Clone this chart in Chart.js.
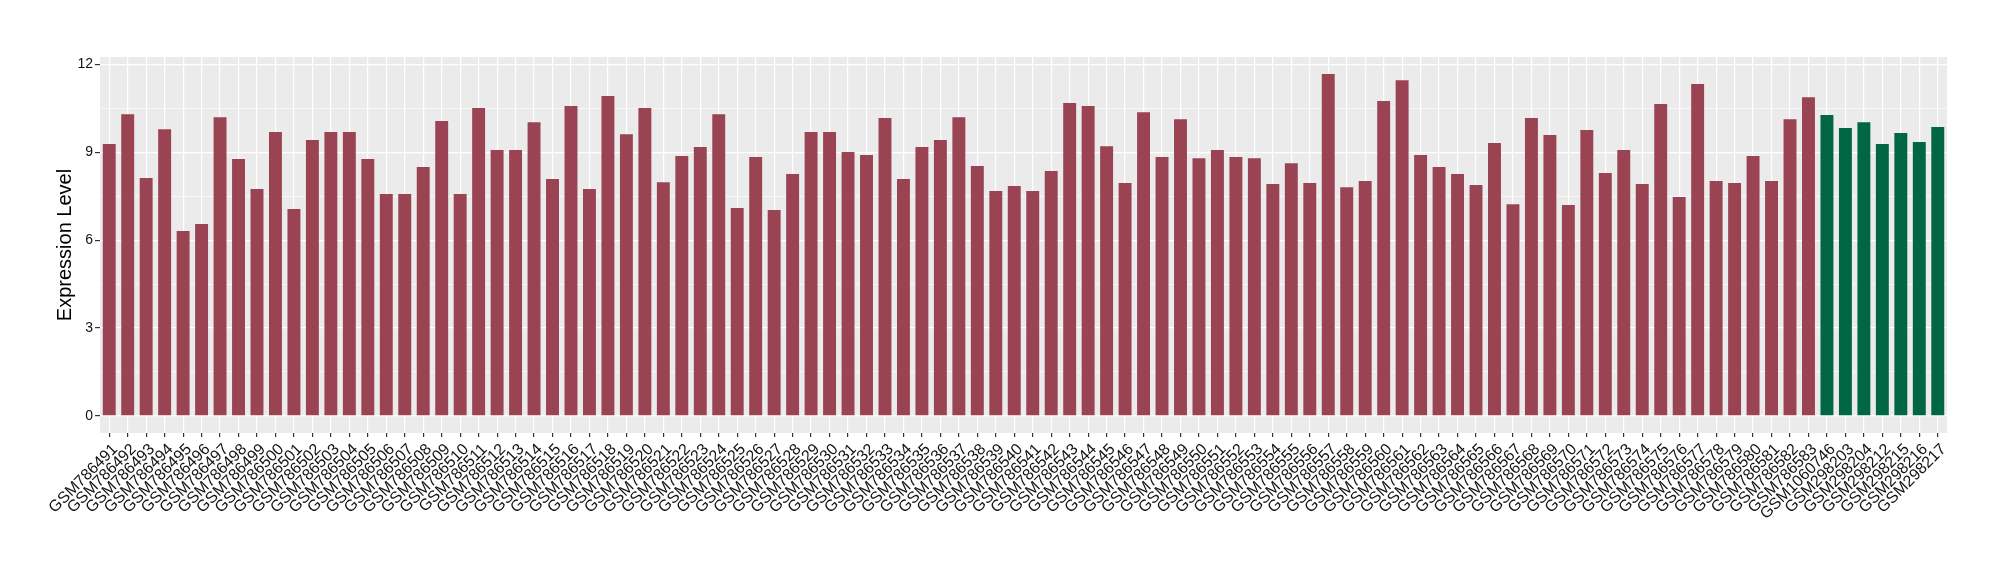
<!DOCTYPE html>
<html>
<head>
<meta charset="utf-8">
<script src="https://cdn.jsdelivr.net/npm/chart.js@4.4.1/dist/chart.umd.min.js"></script>
<style>
  html, body { margin: 0; padding: 0; background: #ffffff; }
  #wrap { width: 2000px; height: 580px; }
</style>
</head>
<body>
<div id="wrap"><canvas id="c" width="2000" height="580"></canvas></div>
<script>
const sampleLabels = [
  "GSM786491","GSM786492","GSM786493","GSM786494","GSM786495","GSM786496","GSM786497","GSM786498","GSM786499","GSM786500",
  "GSM786501","GSM786502","GSM786503","GSM786504","GSM786505","GSM786506","GSM786507","GSM786508","GSM786509","GSM786510",
  "GSM786511","GSM786512","GSM786513","GSM786514","GSM786515","GSM786516","GSM786517","GSM786518","GSM786519","GSM786520",
  "GSM786521","GSM786522","GSM786523","GSM786524","GSM786525","GSM786526","GSM786527","GSM786528","GSM786529","GSM786530",
  "GSM786531","GSM786532","GSM786533","GSM786534","GSM786535","GSM786536","GSM786537","GSM786538","GSM786539","GSM786540",
  "GSM786541","GSM786542","GSM786543","GSM786544","GSM786545","GSM786546","GSM786547","GSM786548","GSM786549","GSM786550",
  "GSM786551","GSM786552","GSM786553","GSM786554","GSM786555","GSM786556","GSM786557","GSM786558","GSM786559","GSM786560",
  "GSM786561","GSM786562","GSM786563","GSM786564","GSM786565","GSM786566","GSM786567","GSM786568","GSM786569","GSM786570",
  "GSM786571","GSM786572","GSM786573","GSM786574","GSM786575","GSM786576","GSM786577","GSM786578","GSM786579","GSM786580",
  "GSM786581","GSM786582","GSM786583",
  "GSM1060746","GSM298203","GSM298204","GSM298212","GSM298215","GSM298216","GSM298217"
];

// first group (red bars), 93 samples
const groupAValues = [
  9.28, 10.30, 8.12, 9.79, 6.31, 6.55, 10.20, 8.77, 7.75, 9.69,
  7.06, 9.42, 9.69, 9.69, 8.77, 7.58, 7.58, 8.50, 10.07, 7.58,
  10.51, 9.08, 9.08, 10.03, 8.09, 10.58, 7.75, 10.92, 9.62, 10.51,
  7.98, 8.87, 9.18, 10.30, 7.10, 8.84, 7.03, 8.26, 9.69, 9.69,
  9.01, 8.91, 10.17, 8.09, 9.18, 9.42, 10.20, 8.53, 7.68, 7.85,
  7.68, 8.36, 10.68, 10.58, 9.21, 7.95, 10.37, 8.84, 10.13, 8.80,
  9.08, 8.84, 8.80, 7.92, 8.63, 7.95, 11.67, 7.81, 8.02, 10.75,
  11.46, 8.91, 8.50, 8.26, 7.88, 9.32, 7.23, 10.17, 9.59, 7.20,
  9.76, 8.29, 9.08, 7.92, 10.65, 7.47, 11.33, 8.02, 7.95, 8.87,
  8.02, 10.13, 10.88
];

// second group (green bars), 7 samples
const groupBValues = [10.27, 9.83, 10.03, 9.28, 9.66, 9.35, 9.86];

const yTickValues = [0, 3, 6, 9, 12];
const yMinorValues = [1.5, 4.5, 7.5, 10.5];

const colorA = "#9A4352";
const colorB = "#006644";

const nA = groupAValues.length, nB = groupBValues.length;
const dataA = groupAValues.concat(new Array(nB).fill(null));
const dataB = new Array(nA).fill(null).concat(groupBValues);

const yMax = 11.67;
const yLo = -0.05 * yMax, yHi = yMax * 1.05;

const panelBg = {
  id: 'panelBg',
  beforeDraw(chart) {
    const {ctx, chartArea: a} = chart;
    ctx.save();
    ctx.fillStyle = '#EBEBEB';
    ctx.fillRect(a.left, a.top, a.right - a.left, a.bottom - a.top);
    ctx.restore();
  }
};

const isMajor = v => yTickValues.some(t => Math.abs(t - v) < 1e-6);

new Chart(document.getElementById('c'), {
  type: 'bar',
  data: {
    labels: sampleLabels,
    datasets: [
      { data: dataA, backgroundColor: colorA, borderWidth: 0, grouped: false,
        barPercentage: 0.7, categoryPercentage: 1.0 },
      { data: dataB, backgroundColor: colorB, borderWidth: 0, grouped: false,
        barPercentage: 0.7, categoryPercentage: 1.0 }
    ]
  },
  options: {
    responsive: false,
    animation: false,
    devicePixelRatio: 1,
    layout: { padding: { left: 0, top: 57, right: 53, bottom: 0 } },
    plugins: { legend: { display: false }, tooltip: { enabled: false } },
    scales: {
      x: {
        type: 'category',
        offset: true,
        border: { display: false },
        grid: { color: '#FFFFFF', lineWidth: 1.2, offset: false, drawTicks: true,
                tickLength: 4, tickColor: '#333333', tickWidth: 1.2 },
        ticks: {
          autoSkip: false, maxRotation: 45, minRotation: 45, padding: 3, labelOffset: 6,
          color: '#111111',
          font: { family: '"Liberation Sans", Arial, Helvetica, sans-serif', size: 16 }
        },
        afterFit(scale) { scale.height = 147; }
      },
      y: {
        min: yLo, max: yHi,
        border: { display: false },
        afterBuildTicks(scale) {
          scale.ticks = yTickValues.concat(yMinorValues).sort((a, b) => a - b).map(v => ({ value: v }));
        },
        grid: {
          color: '#FFFFFF',
          lineWidth: c => (c.tick && isMajor(c.tick.value)) ? 1.2 : 0.6,
          tickColor: c => (c.tick && isMajor(c.tick.value)) ? '#333333' : 'rgba(0,0,0,0)',
          tickLength: 5, tickWidth: 1.2
        },
        ticks: {
          padding: 2,
          color: '#111111',
          font: { family: '"Liberation Sans", Arial, Helvetica, sans-serif', size: 14 },
          callback: v => isMajor(v) ? String(Math.round(v)) : ''
        },
        title: {
          display: true, text: 'Expression Level', color: '#000000',
          font: { family: '"Liberation Sans", Arial, Helvetica, sans-serif', size: 20 },
          padding: { top: 53, bottom: 0 }
        },
        afterFit(scale) { scale.width = 100; }
      }
    }
  },
  plugins: [panelBg]
});
</script>
</body>
</html>
